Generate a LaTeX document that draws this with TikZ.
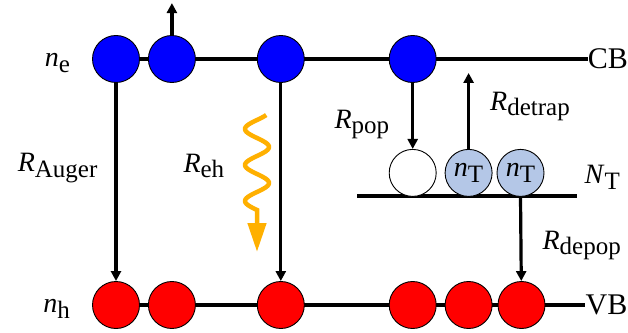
\documentclass[tikz,border=0pt]{standalone}
\usepackage{fontspec}
\setmainfont{Liberation Serif}
\usepackage{tikz}
\usetikzlibrary{positioning, arrows.meta, backgrounds}

\definecolor{eblue}{RGB}{0,0,255}
\definecolor{hred}{RGB}{255,0,0}
\definecolor{trapblue}{RGB}{180,199,231}
\definecolor{photon}{RGB}{255,176,0}

\newcommand{\lab}[2]{\textit{#1}\raisebox{-0.2em}{\fontsize{25}{25}\selectfont #2}}

\tikzset{
  carrier/.style={circle, draw, line width=0.9pt, minimum size=47pt, inner sep=0pt},
  elec/.style={carrier, fill=eblue},
  hole/.style={carrier, fill=hred},
  trapc/.style={carrier, fill=trapblue},
  band/.style={line width=3.5pt},
  arr/.style={line width=3.2pt, -{Triangle[length=10pt, width=10pt]}},
  wave/.style={photon, line width=4.5pt, -{Triangle[length=29pt, width=18pt]}},
  bigtxt/.style={font=\fontsize{30}{32}\selectfont},
}

\begin{document}
\begin{tikzpicture}[x=1pt, y=1pt, every node/.style={inner sep=0pt}, font=\fontsize{28}{30}\selectfont]
    \useasboundingbox (0,0) rectangle (628,332);

    % Conduction band
    \node[elec] (e1) at (116,273) {};
    \node[elec] (e2) [right=8pt of e1] {};
    \node[elec] (e3) [right=61pt of e2] {};
    \node[elec] (e4) [right=84pt of e3] {};

    % Valence band
    \node[hole] (h1) at (116,27) {};
    \node[hole] (h2) [right=8pt of h1] {};
    \node[hole] (h3) [right=61pt of h2] {};
    \node[hole] (h4) [right=84pt of h3] {};
    \node[hole] (h5) [right=8pt of h4] {};
    \node[hole] (h6) [right=5pt of h5] {};

    % Trap states
    \node[carrier, fill=white] (t0) [below=66pt of e4] {};
    \node[trapc] (t1) [right=8pt of t0] {\lab{n}{T}};
    \node[trapc] (t2) [right=4pt of t1] {\lab{n}{T}};
    \coordinate (tl) at (357,136);
    \coordinate (tr) at (577,136);

    % Level labels
    \node (ne) [left=22pt of e1, yshift=-4pt] {\lab{n}{e}};
    \node (nh) [left=22pt of h1, yshift=-4pt] {\lab{n}{h}};
    \node[bigtxt] (cb) [right=151pt of e4] {CB};
    \node[bigtxt] (vb) [right=40pt of h6] {VB};
    \node (nt) [right=40pt of t2, yshift=-4.5pt] {\lab{N}{T}};

    % Bands
    \begin{scope}[on background layer]
        \draw[band] (e1.center) -- (e1 -| cb.west);
        \draw[band] (h1.center) -- (h1 -| vb.west);
        \draw[band] (tl) -- (tr);
    \end{scope}

    % Transitions
    \coordinate[above=32pt of e2] (esc);
    \coordinate[above=76pt of t1] (detr);
    \coordinate (wend) at (257,80);
    \draw[arr] (e2) -- (esc);
    \draw[arr] (e1) -- node[pos=0.43, left=17pt] {\lab{R}{Auger}} (h1);
    \draw[arr] (e3) -- node[pos=0.42, left=55pt] {\lab{R}{eh}} (h3);
    \draw[arr] (e4) -- node[pos=0.63, left=22pt] {\lab{R}{pop}} (t0);
    \draw[arr] (t1) -- node[pos=0.56, right=20pt] {\lab{R}{detrap}} (detr);
    \draw[arr] (t2.south) -- node[pos=0.58, right=20pt] {\lab{R}{depop}} (h6);
    \draw[wave] plot[domain=3:98, samples=80, smooth] ({257-12*sin(10*(\x-8))}, {220-\x}) -- (wend);
\end{tikzpicture}
\end{document}
